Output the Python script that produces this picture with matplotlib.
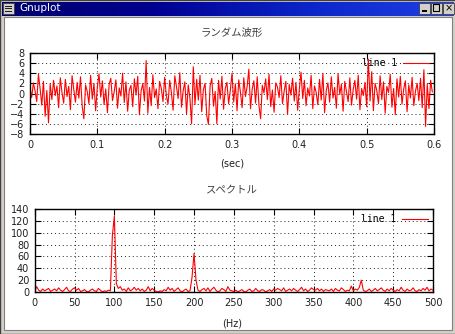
import numpy as np
import matplotlib
matplotlib.use("Agg")
import matplotlib.pyplot as plt
from matplotlib.patches import Rectangle

plt.rcParams['font.family'] = ['DejaVu Sans', 'Noto Sans CJK JP']

# ---- data -------------------------------------------------------------
wave_title = "ランダム波形"
spec_title = "スペクトル"
wave_xlabel = "(sec)"
spec_xlabel = "(Hz)"
legend_label = "line 1"

wave_dt = 0.0025  # sample spacing of the waveform (sec)
wave = [
    1.2, -0.8, 2.1, 0.5, -1.6, 3.8, 1.0, -2.3, 2.4, -4.5, 0.6, -5.8, 1.9, -1.2, 2.6, -0.4, 1.5, -2.8, 3.1, 0.2,
    -1.9, 2.8, -0.6, 1.4, -3.2, 3.5, 0.8, -1.7, 2.2, -0.9, 3.3, -2.5, -5.0, 1.7, 0.4, -2.0, 3.6, -1.1, 2.0, -3.4,
    1.3, 3.9, -0.7, 2.5, -2.2, 0.9, -3.8, 1.8, 3.0, -1.4, 0.3, 2.7, -2.9, 1.1, -0.5, 4.0, -1.8, 2.3, -3.5, 0.7,
    1.6, -2.6, 2.9, -0.3, 3.4, -4.2, 0.5, 2.0, -1.5, 6.5, -3.9, 1.2, -2.4, 3.7, -0.8, 0.9, -3.0, 2.4, 1.0, -1.6,
    3.2, -0.4, -2.1, 2.6, 0.2, -3.3, 3.5, 1.4, -1.0, 4.1, -2.7, 0.6, 2.3, -4.0, 1.7, -0.9, -6.0, 5.3, -2.2, 2.8,
    -1.3, 3.6, -3.6, 0.8, 2.0, -4.4, -6.1, 1.5, 3.0, -2.5, 0.4, -6.0, 2.6, -1.1, 3.4, -3.1, 1.0, 2.2, -2.0, 0.6,
    4.0, -1.7, 1.9, -3.4, 2.7, 0.3, -2.8, 3.1, -0.6, 1.4, 4.8, -3.0, 0.9, 2.5, -1.9, 3.3, -2.3, -5.0, 1.6, 0.1,
    2.9, -1.2, 3.8, -2.6, 0.7, -3.7, 2.1, 1.3, -0.8, 3.5, -2.0, 0.5, 2.4, -4.1, 1.8, -0.3, 3.0, -1.5, 2.2, -3.3,
    0.9, 4.2, -1.0, 2.6, -2.4, 1.1, -0.5, 3.6, -3.0, 1.5, 0.2, -2.2, 2.8, -1.3, 4.0, -3.8, 0.6, 2.1, -1.7, 3.3,
    -0.9, 1.2, -2.9, 3.9, -0.2, 1.8, -3.5, 2.4, 0.4, -1.6, 3.1, -2.3, 0.8, 2.6, -1.1, 3.6, -3.2, 1.0, -0.4, 2.2,
    -2.6, 6.8, -1.5, 4.3, -3.4, 2.0, 0.6, -2.0, 3.5, -1.2, 2.3, -3.9, 1.4, 0.2, 3.8, -2.7, 1.0, -4.2, 2.9, -0.7,
    3.4, -2.1, 0.9, 2.5, -3.6, 1.7, -0.9, 3.2, -2.4, 0.5, 2.0, -1.4, 3.0, -2.8, 4.7, -6.5, 1.8, -3.0, 2.6, 0.3,
]

spec_df = 2.5  # frequency spacing of the spectrum (Hz)
spectrum = [
    2, 9, 3, 1, 5, 2, 4, 6, 1, 3, 5, 2, 7, 3, 1, 4, 8, 2, 1, 5,
    7, 3, 6, 1, 2, 4, 1, 0, 3, 5, 2, 1, 6, 3, 0, 2, 1, 3, 2, 95,
    128, 14, 6, 9, 3, 5, 1, 7, 2, 4, 8, 3, 6, 2, 5, 1, 3, 9, 2, 6,
    3, 1, 0, 2, 1, 4, 2, 8, 3, 6, 1, 4, 7, 2, 0, 3, 5, 1, 2, 25,
    65, 20, 3, 1, 4, 6, 2, 7, 1, 5, 8, 3, 0, 2, 6, 4, 1, 9, 3, 2,
    1, 3, 0, 2, 4, 1, 0, 3, 5, 1, 2, 6, 2, 1, 4, 3, 0, 2, 4, 1,
    5, 3, 6, 4, 2, 7, 1, 3, 5, 2, 6, 3, 1, 4, 8, 2, 5, 1, 3, 7,
    4, 3, 6, 2, 5, 1, 4, 3, 2, 5, 1, 6, 3, 2, 7, 4, 1, 3, 2, 10,
    2, 5, 3, 8, 20, 3, 1, 2, 5, 1, 3, 6, 2, 4, 7, 3, 1, 5, 2, 6,
    3, 1, 4, 2, 8, 3, 1, 5, 2, 3, 7, 2, 1, 4, 2, 6, 3, 8, 2, 5,
    3,
]

wave_xticks = [0, 0.1, 0.2, 0.3, 0.4, 0.5, 0.6]
wave_xticklabels = ["0", "0.1", "0.2", "0.3", "0.4", "0.5", "0.6"]
wave_yticks = [-8, -6, -4, -2, 0, 2, 4, 6, 8]
spec_xticks = [0, 50, 100, 150, 200, 250, 300, 350, 400, 450, 500]
spec_yticks = [0, 20, 40, 60, 80, 100, 120, 140]

# ---- figure & window frame ---------------------------------------------
W, H = 456, 334
fig = plt.figure(figsize=(W / 100, H / 100), dpi=100)
fig.patch.set_facecolor('#d4d0c8')


def box(x, y, w, h, z=-10, **kw):
    """Rectangle in pixel units measured from the top-left corner."""
    fig.patches.append(Rectangle((x / W, 1 - (y + h) / H), w / W, h / H,
                                 transform=fig.transFigure, figure=fig,
                                 zorder=z, **kw))


# outer frame
box(0, 0, W, H, z=-20, facecolor='#d4d0c8', edgecolor='#404040', lw=1)
# white client area
box(4, 17, W - 8, H - 21, z=-19, facecolor='white', edgecolor='#808080', lw=0.8)

# title bar with a navy-to-blue gradient
grad = np.linspace(0, 1, 256).reshape(1, -1)
tb = fig.add_axes([2 / W, 1 - 16 / H, (W - 4) / W, 14 / H], zorder=-5)
tb.imshow(grad, aspect='auto', extent=[0, 1, 0, 1],
          cmap=matplotlib.colors.LinearSegmentedColormap.from_list(
              'tb', ['#00006e', '#000090', '#0a24c8', '#2040e0']))
tb.set_axis_off()
fig.text(19 / W, 1 - 8 / H, "Gnuplot", color='white', fontsize=7.5,
         va='center', ha='left', family=['DejaVu Sans'])
# menu icon
box(3, 3, 11, 11, z=5, facecolor='#d4d0c8', edgecolor='#404040', lw=0.6)
for yy in (5.5, 8, 10.5):
    box(5, yy, 7, 1, z=6, facecolor='#202020', edgecolor='none')
# window buttons
for bx, sym in ((419, 'min'), (431, 'max'), (443, 'x')):
    box(bx, 3, 11, 11, z=5, facecolor='#d4d0c8', edgecolor='#404040', lw=0.6)
    if sym == 'min':
        box(bx + 3, 10, 5, 1.5, z=6, facecolor='black', edgecolor='none')
    elif sym == 'max':
        box(bx + 2.5, 4.5, 6, 6, z=6, facecolor='none', edgecolor='black', lw=0.8)
    else:
        fig.text((bx + 5.5) / W, 1 - 8.5 / H, "×", fontsize=7, ha='center',
                 va='center', family=['DejaVu Sans'], color='black', zorder=7)

# ---- plots -------------------------------------------------------------
tick_font = dict(family=['DejaVu Sans'], size=7)
jp_font = ['Noto Sans CJK JP', 'DejaVu Sans']
red = '#ff0000'
grid_kw = dict(color='#202020', linestyle=(0, (1, 3)), linewidth=0.7)


def style(ax, xticks, yticks, xlabels=None):
    ax.set_xticks(xticks)
    ax.set_yticks(yticks)
    if xlabels is not None:
        ax.set_xticklabels(xlabels)
    for lab in ax.get_xticklabels() + ax.get_yticklabels():
        lab.set_fontfamily(tick_font['family'])
        lab.set_fontsize(tick_font['size'])
        lab.set_color('#202020')
    ax.tick_params(direction='in', length=4, width=0.8, top=True, right=True,
                   pad=4, colors='black', labelcolor='#202020')
    ax.grid(True, **grid_kw)
    for s in ax.spines.values():
        s.set_linewidth(1.0)
        s.set_color('black')
    ax.set_facecolor('white')


# waveform
ax1 = fig.add_axes([30 / W, 1 - 134 / H, 404 / W, 81 / H])
t = np.arange(len(wave)) * wave_dt
ax1.plot(t, wave, color=red, lw=0.8, label=legend_label)
ax1.set_xlim(0, 0.6)
ax1.set_ylim(-8, 8)
style(ax1, wave_xticks, wave_yticks, wave_xticklabels)
ax1.legend(loc='upper right', frameon=False, markerfirst=False,
           prop=dict(family=['DejaVu Sans Mono'], size=7),
           handlelength=2.6, borderaxespad=0.15, handletextpad=0.6)
fig.text(232 / W, 1 - 33 / H, wave_title, ha='center', va='center',
         fontsize=7.5, family=jp_font, color='#404040')
fig.text(232 / W, 1 - 163 / H, wave_xlabel, ha='center', va='center',
         fontsize=7, family=['DejaVu Sans'], color='#202020')

# spectrum
ax2 = fig.add_axes([34.7 / W, 1 - 292 / H, 398.3 / W, 83 / H])
f = np.arange(len(spectrum)) * spec_df
ax2.plot(f, spectrum, color=red, lw=0.8, label=legend_label)
ax2.set_xlim(0, 500)
ax2.set_ylim(0, 140)
style(ax2, spec_xticks, spec_yticks)
ax2.legend(loc='upper right', frameon=False, markerfirst=False,
           prop=dict(family=['DejaVu Sans Mono'], size=7),
           handlelength=2.6, borderaxespad=0.15, handletextpad=0.6)
fig.text(232 / W, 1 - 190 / H, spec_title, ha='center', va='center',
         fontsize=7.5, family=jp_font, color='#404040')
fig.text(232 / W, 1 - 323 / H, spec_xlabel, ha='center', va='center',
         fontsize=7, family=['DejaVu Sans'], color='#202020')

fig.savefig("out.png", dpi=100, facecolor=fig.get_facecolor())
